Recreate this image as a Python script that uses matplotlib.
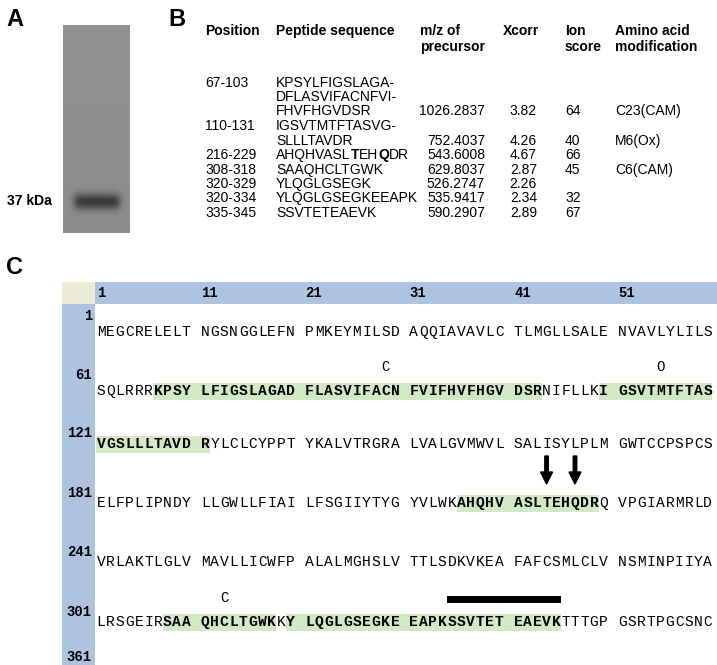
import numpy as np
import matplotlib.pyplot as plt
from matplotlib.patches import Rectangle, FancyArrow

# ---- panel B table data ----
positions = ["67-103", "", "", "110-131", "", "216-229", "308-318", "320-329", "320-334", "335-345"]
peptides = ["KPSYLFIGSLAGA-", "DFLASVIFACNFVI-", "FHVFHGVDSR", "IGSVTMTFTASVG-", "SLLLTAVDR",
            "AHQHVASLTEHQDR", "SAAQHCLTGWK", "YLQGLGSEGK", "YLQGLGSEGKEEAPK", "SSVTETEAEVK"]
mz = ["", "", "1026.2837", "", "752.4037", "543.6008", "629.8037", "526.2747", "535.9417", "590.2907"]
xcorr = ["", "", "3.82", "", "4.26", "4.67", "2.87", "2.26", "2.34", "2.89"]
ion = ["", "", "64", "", "40", "66", "45", "", "32", "67"]
modif = ["", "", "C23(CAM)", "", "M6(Ox)", "", "C6(CAM)", "", "", ""]

# ---- panel C sequence ----
sequence = ("MEGCRELELTNGSNGGLEFNPMKEYMILSDAQQIAVAVLCTLMGLLSALENVAVLYLILS"
            "SQLRRRKPSYLFIGSLAGADFLASVIFACNFVIFHVFHGVDSRNIFLLKIGSVTMTFTAS"
            "VGSLLLTAVDRYLCLCYPPTYKALVTRGRALVALGVMWVLSALISYLPLMGWTCCPSPCS"
            "ELFPLIPNDYLLGWLLFIAILFSGIIYTYGYVLWKAHQHVASLTEHQDRQVPGIARMRLD"
            "VRLAKTLGLVMAVLLICWFPALALMGHSLVTTLSDKVKEAFAFCSMLCLVNSMINPIIYA"
            "LRSGEIRSAAQHCLTGWKKYLQGLGSEGKEEAPKSSVTETEAEVKTTTGPGSRTPGCSNC")
peptide_ranges = [(67, 103), (110, 131), (216, 229), (308, 318), (320, 345)]
mod_marks = [(89, "C"), (115, "O"), (313, "C")]
arrow_sites = [224, 227]
bar_range = (335, 345)
col_labels = [1, 11, 21, 31, 41, 51]
row_labels = [1, 61, 121, 181, 241, 301, 361]

fig = plt.figure(figsize=(7.17, 6.65), dpi=100)
ax = fig.add_axes([0, 0, 1, 1])
ax.set_xlim(0, 717)
ax.set_ylim(665, 0)
ax.axis("off")

sans = "Liberation Sans"
mono = "Liberation Mono"
fs = 10

# ---- panel A ----
ax.text(6, 20, "A", fontsize=17, fontweight="bold", family=sans, va="center")
yy, xx = np.mgrid[0:208, 0:67]
gel = np.full((208, 67), 0.57)
gel -= 0.02 * (yy / 208)
band = np.exp(-((yy - 176) / 8.0) ** 2) * (1 / (1 + np.exp(-(xx - 11) / 2.0))) * (1 / (1 + np.exp((xx - 56) / 2.0)))
gel -= 0.33 * band
ax.imshow(gel, cmap="gray", vmin=0, vmax=1, extent=(63, 130, 233, 25), aspect="auto", interpolation="bilinear")
ax.text(7, 201, "37 kDa", fontsize=fs, fontweight="bold", family=sans, va="center")

# ---- panel B ----
ax.text(168, 20, "B", fontsize=17, fontweight="bold", family=sans, va="center")
hdr = [(205, "Position"), (276, "Peptide sequence"), (420, "m/z of\nprecursor"),
       (503, "Xcorr"), (565, "Ion\nscore"), (615, "Amino acid\nmodification")]
for x, t in hdr:
    ax.text(x, 24, t, fontsize=fs, fontweight="bold", family=sans, va="top", linespacing=1.15)
row_y = [83, 97, 111, 126, 141, 155, 170, 184, 198, 213]
for i, y in enumerate(row_y):
    ax.text(205, y, positions[i], fontsize=fs, family=sans, va="center")
    if peptides[i] == "AHQHVASLTEHQDR":
        txt = ax.text(276, y, "AHQHVASL", fontsize=fs, family=sans, va="center")
        for part, w in [("T", "bold"), ("EH", "normal"), ("Q", "bold"), ("DR", "normal")]:
            txt = ax.annotate(part, xycoords=txt, xy=(1, 0.5), va="center", ha="left",
                              fontsize=fs, family=sans, fontweight=w)
    else:
        ax.text(276, y, peptides[i], fontsize=fs, family=sans, va="center")
    ax.text(485, y, mz[i], fontsize=fs, family=sans, va="center", ha="right")
    ax.text(537, y, xcorr[i], fontsize=fs, family=sans, va="center", ha="right")
    ax.text(565, y, ion[i], fontsize=fs, family=sans, va="center")
    ax.text(615, y, modif[i], fontsize=fs, family=sans, va="center")

# ---- panel C ----
ax.text(6, 268, "C", fontsize=17, fontweight="bold", family=sans, va="center")
blue = "#aec3df"
ax.add_patch(Rectangle((62, 282), 33, 22, color="#ecebd6", lw=0))
ax.add_patch(Rectangle((95, 282), 622, 22, color=blue, lw=0))
ax.add_patch(Rectangle((62, 304), 33, 361, color=blue, lw=0))

x0, cw = 101.0, 9.48
seq_y = [332, 391, 444, 503, 562, 622]
lab_y = [316, 375, 433, 493, 552, 612, 657]


def char_xy(pos):
    i = pos - 1
    row, col = divmod(i, 60)
    return x0 + (col + col // 10) * cw, seq_y[row]


for k, lab in enumerate(col_labels):
    ax.text(x0 - 4 + (lab - 1 + k) * cw, 293, str(lab), fontsize=10, fontweight="bold",
            family=mono, va="center")
for lab, y in zip(row_labels, lab_y):
    ax.text(92, y, str(lab), fontsize=10, fontweight="bold", family=mono, va="center", ha="right")

covered = set()
for a, b in peptide_ranges:
    covered.update(range(a, b + 1))
    p = a
    while p <= b:
        row_end = min(b, ((p - 1) // 60 + 1) * 60)
        xa, y = char_xy(p)
        xb, _ = char_xy(row_end)
        ax.add_patch(Rectangle((xa - cw / 2, y - 8.5), xb - xa + cw, 17, color="#d3e9c6", lw=0))
        p = row_end + 1

for n, ch in enumerate(sequence, start=1):
    x, y = char_xy(n)
    ax.text(x, y, ch, fontsize=10.5, family=mono, ha="center", va="center",
            fontweight="bold" if n in covered else "normal")

for pos, m in mod_marks:
    x, y = char_xy(pos)
    ax.text(x, y - 24, m, fontsize=10, family=mono, ha="center", va="center")
for pos in arrow_sites:
    x, y = char_xy(pos)
    ax.add_patch(FancyArrow(x, y - 47, 0, 28, width=3.5, head_width=12, head_length=12,
                            length_includes_head=True, color="black"))
xa, y = char_xy(bar_range[0])
xb, _ = char_xy(bar_range[1])
ax.add_patch(Rectangle((xa - cw / 2, y - 26), xb - xa + cw, 7, color="black", lw=0))

fig.savefig("out.png", dpi=100)
